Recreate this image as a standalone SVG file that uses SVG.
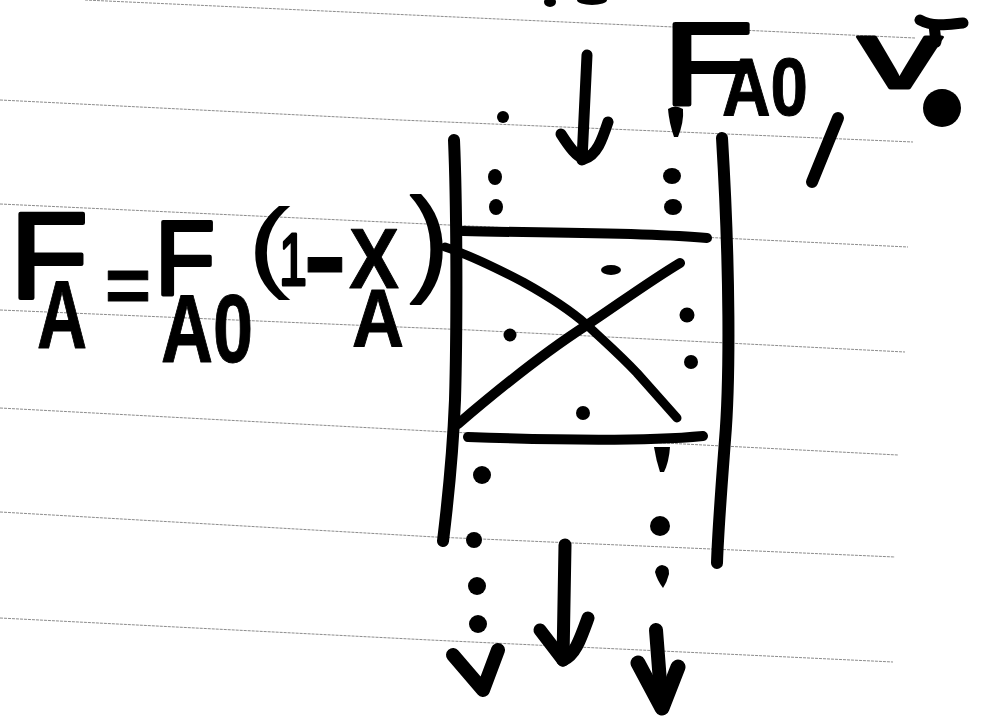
<svg xmlns="http://www.w3.org/2000/svg" width="983" height="716" viewBox="0 0 983 716">
<style>
.rule{stroke:#8c8c8c;stroke-width:1;fill:none;stroke-dasharray:3 1}
.ink{stroke:#000;fill:none;stroke-linecap:round;stroke-linejoin:round}
.t{font-family:"Liberation Sans",Arial,sans-serif;fill:#000;stroke:#000;stroke-linejoin:round}
.b{font-weight:bold}
</style>
<rect width="983" height="716" fill="#fff"/>
<g id="rules">
<path class="rule" d="M85 0L520 20L915 38M0 100L400 120L913 142M0 204L470 226L908 247M0 310L470 330L905 352M0 408L430 431L898 455M0 512L435 537L895 557M0 618L430 640L893 662"/>
</g>
<g id="reactor" class="ink">
<path stroke-width="12" d="M454 140C457 210 457 330 455 400C453 450 448 500 443 541"/>
<path stroke-width="12" d="M722 138C730 270 730 380 725 440C722 480 718 530 717 563"/>
<path stroke-width="10" d="M463 231C540 233 640 232 707 238"/>
<path stroke-width="10" d="M468 437C550 440 640 442 703 436"/>
<path stroke-width="9" d="M445 247C470 255 500 270 523 282C550 297 570 310 587 325C605 342 620 355 637 373L677 418"/>
<path stroke-width="10" d="M458 424C500 388 545 352 587 325C620 303 650 281 680 263"/>
</g>
<g id="connectors" class="ink">
<path stroke-width="11" d="M587 55L582 160"/>
<path stroke-width="11" d="M561 134C570 148 576 156 584 159C597 155 602 140 608 122"/>
<path stroke-width="13" d="M565 545L563 660"/>
<path stroke-width="13" d="M540 630L563 660C575 655 580 640 588 618"/>
<path stroke-width="14" d="M656 630L662 708"/>
<path stroke-width="15" d="M638 663L662 708L678 667"/>
<path stroke-width="14" d="M453 655L483 690L498 650"/>
<path stroke-width="12" d="M838 118L812 182"/>
</g>
<g id="dots" fill="#000">
<ellipse cx="550" cy="2" rx="6" ry="5"/>
<ellipse cx="592" cy="0" rx="15" ry="5"/>
<circle cx="503" cy="117" r="6"/>
<path d="M668 109Q675 104 683 109Q684 122 678 137L674 137Q669 122 668 109Z"/>
<ellipse cx="495" cy="177" rx="7" ry="8"/><ellipse cx="496" cy="207" rx="7" ry="8"/>
<ellipse cx="672" cy="176" rx="9" ry="8"/><ellipse cx="673" cy="207" rx="9" ry="8"/>
<ellipse cx="611" cy="270" rx="10" ry="5"/>
<circle cx="687" cy="315" r="7.5"/><circle cx="691" cy="362" r="7"/>
<circle cx="510" cy="335" r="6.5"/><circle cx="583" cy="413" r="7"/>
<path d="M654 447L670 447Q669 462 664 472L660 472Q656 460 654 447Z"/>
<ellipse cx="482" cy="475" rx="9" ry="9"/>
<circle cx="660" cy="526" r="10"/>
<ellipse cx="474" cy="540" rx="8" ry="8"/>
<path d="M662 565Q670 566 669 574Q667 582 663 588Q657 580 655 572Q656 566 662 565Z"/>
<ellipse cx="477" cy="586" rx="9" ry="9"/><ellipse cx="478" cy="624" rx="9" ry="9"/>
<circle cx="942" cy="108" r="19"/>
</g>
<g id="labels">
<text class="t" x="663" y="105" font-size="116" stroke-width="4" textLength="90" lengthAdjust="spacingAndGlyphs">F</text>
<text class="t b" x="722" y="115" font-size="82" stroke-width="1" textLength="86" lengthAdjust="spacingAndGlyphs">A0</text>
<text class="t" x="858" y="88" font-size="97" stroke-width="3" textLength="84" lengthAdjust="spacingAndGlyphs">v</text>
<path class="ink" stroke-width="11" d="M936 42L934 25M920 20C935 28 950 24 963 23"/>
<text class="t" x="10" y="298" font-size="122" stroke-width="4" textLength="78" lengthAdjust="spacingAndGlyphs">F</text>
<text class="t b" x="37" y="348" font-size="96" textLength="50" lengthAdjust="spacingAndGlyphs">A</text>
<text class="t b" x="105" y="312" font-size="80" textLength="46" lengthAdjust="spacingAndGlyphs">=</text>
<text class="t" x="155" y="295" font-size="105" stroke-width="4" textLength="60" lengthAdjust="spacingAndGlyphs">F</text>
<text class="t b" x="161" y="362" font-size="96" textLength="92" lengthAdjust="spacingAndGlyphs">A0</text>
<text class="t" x="247" y="279" font-size="100" stroke-width="0" textLength="44" lengthAdjust="spacingAndGlyphs">(</text>
<text class="t" x="279" y="285" font-size="75" stroke-width="3" textLength="28" lengthAdjust="spacingAndGlyphs">1</text>
<text class="t b" x="303" y="296" font-size="120" textLength="44" lengthAdjust="spacingAndGlyphs">-</text>
<text class="t b" x="349" y="288" font-size="85" textLength="50" lengthAdjust="spacingAndGlyphs">X</text>
<text class="t b" x="352" y="346" font-size="81" textLength="52" lengthAdjust="spacingAndGlyphs">A</text>
<text class="t" x="410" y="280" font-size="117" stroke-width="2" textLength="39" lengthAdjust="spacingAndGlyphs">)</text>
</g>
</svg>
